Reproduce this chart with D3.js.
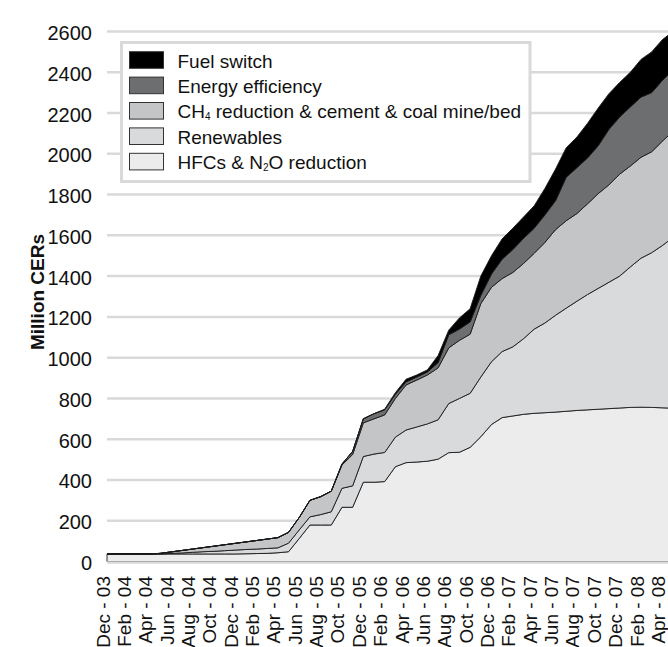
<!DOCTYPE html>
<html>
<head>
<meta charset="utf-8">
<script src="https://cdn.jsdelivr.net/npm/d3@7"></script>
<style>
  html, body { margin: 0; padding: 0; background: #fff; }
  svg { display: block; font-family: "Liberation Sans", Arial, Helvetica, sans-serif; }
</style>
</head>
<body>
<svg id="chart" width="668" height="647"></svg>
<script>
// Monthly categories, Dec 2003 onwards
const months = [
  "Dec - 03","Jan - 04","Feb - 04","Mar - 04","Apr - 04","May - 04","Jun - 04","Jul - 04","Aug - 04","Sep - 04","Oct - 04","Nov - 04",
  "Dec - 04","Jan - 05","Feb - 05","Mar - 05","Apr - 05","May - 05","Jun - 05","Jul - 05","Aug - 05","Sep - 05","Oct - 05","Nov - 05",
  "Dec - 05","Jan - 06","Feb - 06","Mar - 06","Apr - 06","May - 06","Jun - 06","Jul - 06","Aug - 06","Sep - 06","Oct - 06","Nov - 06",
  "Dec - 06","Jan - 07","Feb - 07","Mar - 07","Apr - 07","May - 07","Jun - 07","Jul - 07","Aug - 07","Sep - 07","Oct - 07","Nov - 07",
  "Dec - 07","Jan - 08","Feb - 08","Mar - 08","Apr - 08","May - 08"
];

// Million CERs by project type (stacked, bottom to top)
const hfc = [37,37,37,37,37,37,37,37,37,37,37,37,37,38,39,40,43,48,113,179,179,179,266,266,389,389,392,465,485,488,492,502,534,536,560,612,672,706,714,722,727,730,733,737,741,744,747,750,753,756,757,756,754,752];
const renewables = [0,0,0,0,0,0,3,5,8,11,13,16,19,21,22,24,24,42,42,40,51,65,93,105,126,138,143,145,160,172,183,193,241,264,265,293,308,324,339,371,413,440,475,506,536,566,593,620,647,689,731,759,796,838];
const ch4 = [0,0,0,0,0,3,7,12,16,20,25,29,33,37,42,46,50,53,61,81,88,101,114,154,165,173,184,190,221,230,240,255,273,285,290,360,365,358,365,369,372,395,420,429,430,445,465,478,500,495,495,495,512,520];
const efficiency = [0,0,0,0,0,0,0,0,0,0,0,0,0,0,0,0,0,0,0,0,0,0,5,15,20,25,25,20,15,15,15,25,64,55,60,40,65,95,112,123,123,135,142,213,225,225,235,272,280,290,295,290,298,300];
const fuelSwitch = [0,0,0,0,0,0,0,0,0,0,0,0,0,0,0,0,0,0,0,0,0,0,0,0,0,0,3,8,13,10,10,35,23,55,65,95,90,100,105,105,110,130,155,145,150,170,185,175,170,170,185,200,200,190];

const seriesKeys = ["hfc", "renewables", "ch4", "efficiency", "fuelSwitch"];
const seriesLabels = ["HFCs & N_2O reduction", "Renewables", "CH_4 reduction & cement & coal mine/bed", "Energy efficiency", "Fuel switch"];
const seriesColors = ["#ebeceb", "#d9dadc", "#c4c5c7", "#6d6e70", "#000000"];

const yTicks = [0, 200, 400, 600, 800, 1000, 1200, 1400, 1600, 1800, 2000, 2200, 2400, 2600];
const xTickLabels = months.filter((m, i) => i % 2 === 0);
const yTitle = "Million CERs";

const svg = d3.select("#chart");
const width = 668;

const x = d3.scalePoint().domain(months).range([107, 107 + 10.68 * (months.length - 1)]);
const y = d3.scaleLinear().domain([0, 2600]).range([561.5, 31.5]);

// gridlines
svg.append("g").selectAll("line")
  .data(yTicks.filter(v => v > 0))
  .join("line")
  .attr("x1", 107).attr("x2", width)
  .attr("y1", d => y(d)).attr("y2", d => y(d))
  .attr("stroke", "#d9d9d9").attr("stroke-width", 2.5);

// y tick labels
svg.append("g").selectAll("text")
  .data(yTicks)
  .join("text")
  .attr("x", 92).attr("y", d => y(d) + 1.5)
  .attr("text-anchor", "end")
  .attr("dominant-baseline", "central")
  .attr("font-size", 20)
  .attr("fill", "#111")
  .text(d => d);

// y axis title
svg.append("text")
  .attr("transform", "translate(37,292) rotate(-90)")
  .attr("text-anchor", "middle")
  .attr("dominant-baseline", "central")
  .attr("font-size", 19)
  .attr("font-weight", "bold")
  .attr("fill", "#111")
  .text(yTitle);

// stacked areas
const rows = months.map((m, i) => ({
  month: m, hfc: hfc[i], renewables: renewables[i], ch4: ch4[i],
  efficiency: efficiency[i], fuelSwitch: fuelSwitch[i]
}));
const stacked = d3.stack().keys(seriesKeys)(rows);
const area = d3.area()
  .x(d => x(d.data.month))
  .y0(d => y(d[0]))
  .y1(d => y(d[1]));

svg.append("g").selectAll("path")
  .data(stacked)
  .join("path")
  .attr("d", area)
  .attr("fill", (d, i) => seriesColors[i])
  .attr("stroke", "#1a1a1a")
  .attr("stroke-width", 0.9)
  .attr("stroke-linejoin", "round");

// baseline
svg.append("line")
  .attr("x1", 107).attr("x2", width)
  .attr("y1", y(0) + 1).attr("y2", y(0) + 1)
  .attr("stroke", "#d9d9d9").attr("stroke-width", 2.5);

// x tick labels (every second month)
svg.append("g").selectAll("text")
  .data(xTickLabels)
  .join("text")
  .attr("transform", d => `translate(${x(d) - 4},576) rotate(-90)`)
  .attr("text-anchor", "end")
  .attr("dominant-baseline", "central")
  .attr("font-size", 19)
  .attr("fill", "#111")
  .text(d => d);

// legend
const legend = svg.append("g");
legend.append("rect")
  .attr("x", 121.5).attr("y", 42.5).attr("width", 408.5).attr("height", 139)
  .attr("fill", "#fff").attr("stroke", "#d9d9d9").attr("stroke-width", 3);

const legendOrder = [4, 3, 2, 1, 0];
legendOrder.forEach((si, row) => {
  const cy = 60 + row * 25.4;
  legend.append("rect")
    .attr("x", 129.5).attr("y", cy - 8.3).attr("width", 34).attr("height", 16.6)
    .attr("fill", seriesColors[si]).attr("stroke", "#333").attr("stroke-width", 1);
  const t = legend.append("text")
    .attr("x", 177.5).attr("y", cy + 0.5)
    .attr("dominant-baseline", "central")
    .attr("font-size", 19)
    .attr("fill", "#111");
  // "_n" marks a subscript digit
  const parts = seriesLabels[si].split(/_(\d)/);
  parts.forEach((p, k) => {
    if (k % 2 === 1) {
      t.append("tspan").attr("font-size", 10).attr("dy", 5).text(p);
    } else if (p.length) {
      t.append("tspan").attr("dy", k > 0 ? -5 : 0).text(p);
    }
  });
});
</script>
</body>
</html>
